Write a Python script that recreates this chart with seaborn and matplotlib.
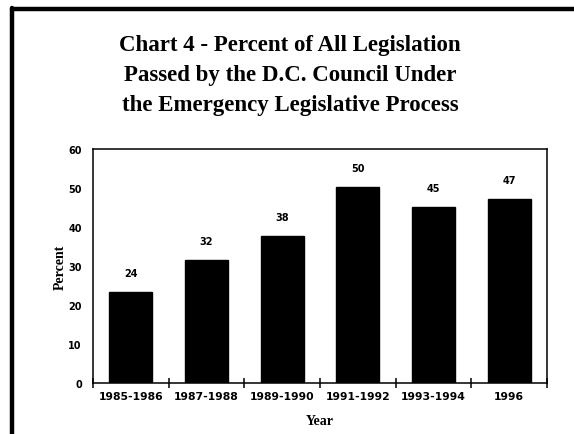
import matplotlib
matplotlib.use("Agg")
import matplotlib.pyplot as plt
import seaborn as sns
import pandas as pd
from matplotlib.lines import Line2D

periods = ["1985-1986", "1987-1988", "1989-1990", "1991-1992", "1993-1994", "1996"]
percent = [23.4, 31.5, 37.6, 50.2, 45.2, 47.3]
percent_labels = ["24", "32", "38", "50", "45", "47"]
y_ticks = [0, 10, 20, 30, 40, 50, 60]

df = pd.DataFrame({"Year": periods, "Percent": percent})

sns.set_theme(style="white")
plt.rcParams["font.family"] = ["DejaVu Sans"]
plt.rcParams["text.color"] = "black"
plt.rcParams["xtick.color"] = "black"
plt.rcParams["ytick.color"] = "black"
plt.rcParams["axes.labelcolor"] = "black"

fig = plt.figure(figsize=(5.74, 4.35), dpi=100)
ax = fig.add_axes([93 / 574, 1 - 384 / 435, (547 - 93) / 574, (384 - 150) / 435])

sns.barplot(data=df, x="Year", y="Percent", color="black", width=0.57,
            edgecolor="black", saturation=1, ax=ax)

ax.set_xlim(-0.5, len(periods) - 0.5)
ax.set_ylim(0, 60)
ax.set_yticks(y_ticks)
ax.set_yticklabels([str(t) for t in y_ticks], fontsize=7, fontweight="bold",
                   family="DejaVu Sans")
ax.set_xticks(range(len(periods)))
ax.set_xticklabels(periods, fontsize=7.8, fontweight="bold", family="DejaVu Sans")
ax.set_xticks([i - 0.5 for i in range(len(periods) + 1)], minor=True)
ax.tick_params(axis="x", which="major", length=0, pad=6)
ax.tick_params(axis="x", which="minor", bottom=True, length=7, width=1.1,
               direction="inout", color="black")
ax.tick_params(axis="y", length=0, pad=8)

for i, lab in enumerate(percent_labels):
    ax.annotate(lab, (i, percent[i]), xytext=(0, 10), textcoords="offset points",
                ha="center", va="bottom", fontsize=7, fontweight="bold",
                color="black")

for s in ax.spines.values():
    s.set_visible(True)
    s.set_color("black")
    s.set_linewidth(1.1)

ax.set_xlabel("Year", family="Liberation Serif", fontweight="bold", fontsize=10,
              labelpad=9)
ax.set_ylabel("Percent", family="Liberation Serif", fontweight="bold", fontsize=10,
              labelpad=1)

title_lines = ["Chart 4 - Percent of All Legislation",
               "Passed by the D.C. Council Under",
               "the Emergency Legislative Process"]
for k, line in enumerate(title_lines):
    fig.text(0.505, 1 - (45 + 30 * k) / 435, line,
             ha="center", va="center", family="Liberation Serif",
             fontweight="bold", fontsize=16.5, color="black")

# page frame (thick top and left border)
fig.add_artist(Line2D([12 / 574, 1.0], [1 - 10 / 435, 1 - 10 / 435],
                      color="black", linewidth=3.2, transform=fig.transFigure))
fig.add_artist(Line2D([12 / 574, 12 / 574], [0.0, 1 - 8.5 / 435],
                      color="black", linewidth=3.2, transform=fig.transFigure))

fig.savefig("out.png", dpi=100, facecolor="white")
